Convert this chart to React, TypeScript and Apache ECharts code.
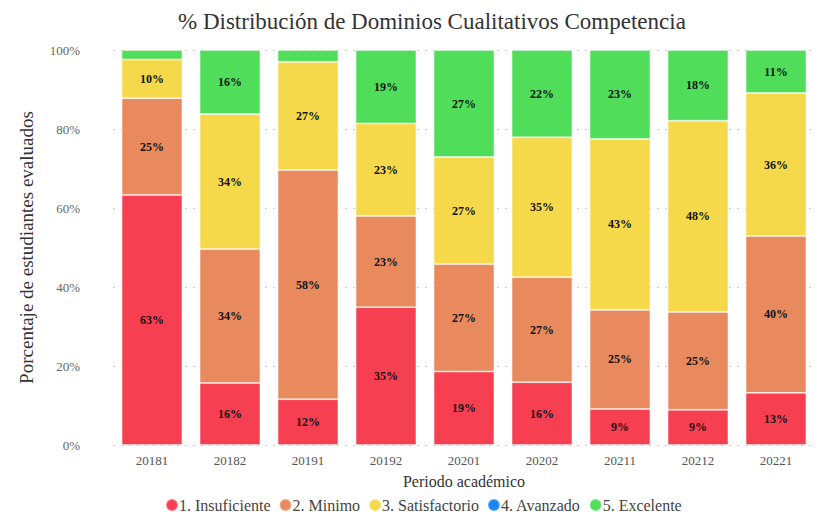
import React, { useEffect, useRef } from "react";
import * as echarts from "echarts";

const periods = ["20181", "20182", "20191", "20192", "20201", "20202", "20211", "20212", "20221"];
const insuficiente = [63.3, 15.7, 11.6, 34.9, 18.6, 15.9, 9.1, 8.9, 13.2];
const minimo = [24.5, 33.9, 58.0, 23.1, 27.2, 26.6, 25.1, 24.8, 39.7];
const satisfactorio = [9.8, 34.2, 27.4, 23.4, 27.1, 35.4, 43.3, 48.4, 36.2];
const avanzado = [0, 0, 0, 0, 0, 0, 0, 0, 0];
const excelente = [2.4, 16.2, 3.0, 18.6, 27.1, 22.1, 22.5, 17.9, 10.9];

const seriesDefs = [
  { name: "1. Insuficiente", data: insuficiente, color: "#F73F52" },
  { name: "2. Minimo", data: minimo, color: "#E98A5E" },
  { name: "3. Satisfactorio", data: satisfactorio, color: "#F6D94B" },
  { name: "4. Avanzado", data: avanzado, color: "#1A86F5" },
  { name: "5. Excelente", data: excelente, color: "#50DE5A" },
];

const SERIF = "Liberation Serif";

export default function App() {
  const ref = useRef<HTMLDivElement>(null);
  useEffect(() => {
    if (!ref.current) return;
    const chart = echarts.init(ref.current, null, { renderer: "svg" });
    chart.setOption({
      animation: false,
      textStyle: { fontFamily: SERIF },
      title: {
        text: "% Distribución de Dominios Cualitativos Competencia",
        left: 173,
        top: 5,
        textStyle: { fontFamily: SERIF, fontSize: 23, fontWeight: "normal", color: "#333" },
      },
      legend: {
        top: 492,
        left: 160,
        icon: "circle",
        itemWidth: 12,
        itemHeight: 12,
        itemGap: 8,
        textStyle: { fontFamily: SERIF, fontSize: 16, color: "#444", padding: [0, 0, 0, -4] },
        data: seriesDefs.map((s) => s.name),
      },
      grid: { left: 113, right: 9, top: 50, bottom: 67 },
      xAxis: {
        type: "category",
        data: periods,
        name: "Periodo académico",
        nameLocation: "middle",
        nameGap: 28,
        nameTextStyle: { fontFamily: SERIF, fontSize: 16, color: "#333" },
        axisLine: { show: false },
        axisTick: { show: false },
        axisLabel: { fontFamily: SERIF, fontSize: 13, color: "#555", margin: 9 },
      },
      yAxis: {
        type: "value",
        min: 0,
        max: 100,
        interval: 20,
        name: "Porcentaje de estudiantes evaluados",
        nameLocation: "middle",
        nameGap: 77,
        nameTextStyle: { fontFamily: SERIF, fontSize: 19, color: "#333" },
        axisLabel: {
          fontFamily: SERIF,
          fontSize: 13,
          color: "#666",
          margin: 33,
          formatter: (v: number) => v + "%",
        },
        splitLine: { lineStyle: { color: "#ccc", type: [2, 6], width: 1 } },
      },
      series: seriesDefs.map((s) => ({
        name: s.name,
        type: "bar",
        stack: "total",
        barCategoryGap: "22%",
        data: s.data,
        itemStyle: { color: s.color, borderColor: "rgba(255,255,255,0.35)", borderWidth: 1 },
        label: {
          show: true,
          position: "inside",
          fontFamily: SERIF,
          fontWeight: "bold",
          fontSize: 12,
          color: "#111",
          formatter: (p: any) => (p.value >= 5 ? Math.round(p.value) + "%" : ""),
        },
      })),
    });
    return () => chart.dispose();
  }, []);
  return (
    <div
      ref={ref}
      style={{ position: "absolute", left: 0, top: 0, width: 824, height: 512 }}
    />
  );
}
